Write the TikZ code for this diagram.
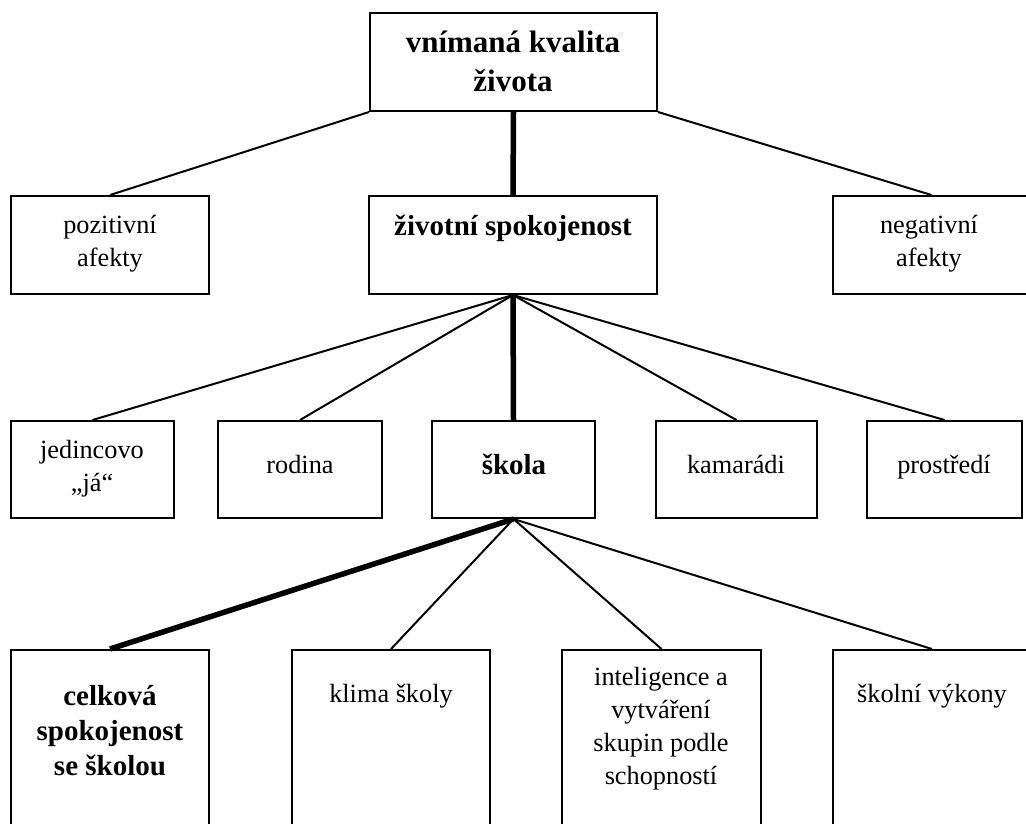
\documentclass[tikz,border=0pt]{standalone}
\usepackage{fontspec}
\setmainfont{Liberation Serif}
\usetikzlibrary{fit}
\tikzset{
  box/.style={draw, line width=2pt, inner sep=0pt},
  conn/.style={line width=2pt},
  strong/.style={line width=5.5pt},
  rm/.style={font=\fontsize{26.3}{33}\selectfont},
  bfm/.style={font=\fontsize{29}{35}\selectfont\bfseries},
  bft/.style={font=\fontsize{31}{39}\selectfont\bfseries},
  txt/.style={inner sep=0pt, align=center}
}
\begin{document}
\begin{tikzpicture}[x=1pt,y=-1pt]
\useasboundingbox (0,0) rectangle (1026,823);
\clip (0,0) rectangle (1026,823);
\fill[white] (0,0) rectangle (1026,823);
% boxes
\node[box, fit={(370,13)(657,111)}] (top) {};
\node[box, fit={(11,196)(209,294)}] (poz) {};
\node[box, fit={(369,196)(657,294)}] (ziv) {};
\node[box, fit={(833,196)(1030,294)}] (neg) {};
\node[box, fit={(11,421)(174,518)}] (ja) {};
\node[box, fit={(218,421)(382,518)}] (rod) {};
\node[box, fit={(432,421)(595,518)}] (sko) {};
\node[box, fit={(656,421)(817,518)}] (kam) {};
\node[box, fit={(867,421)(1022,518)}] (pro) {};
\node[box, fit={(11,650)(209,830)}] (cel) {};
\node[box, fit={(292,650)(490,830)}] (kli) {};
\node[box, fit={(562,650)(761,830)}] (int) {};
\node[box, fit={(833,650)(1031,830)}] (vyk) {};
% texts
\node[txt, bft, anchor=north] (topT) at (513,31) {vnímaná kvalita\\života};
\node[txt, rm, anchor=north] (pozT) at (110,215) {pozitivní\\afekty};
\node[txt, bfm, anchor=base] (zivT) at (513,235) {životní spokojenost};
\node[txt, rm, anchor=north] (negT) at (929,215) {negativní\\afekty};
\node[txt, rm, anchor=north] (jaT) at (92,440) {jedincovo\\„já“};
\node[txt, rm, anchor=base] (rodT) at (300,473) {rodina};
\node[txt, bfm, anchor=base] (skoT) at (514,474) {škola};
\node[txt, rm, anchor=base] (kamT) at (736,473) {kamarádi};
\node[txt, rm, anchor=base] (proT) at (944,473) {prostředí};
\node[txt, bfm, anchor=north] (celT) at (110,685) {celková\\spokojenost\\se školou};
\node[txt, rm, anchor=base] (kliT) at (391,702) {klima školy};
\node[txt, rm, anchor=north] (intT) at (661,667) {inteligence a\\vytváření\\skupin podle\\schopností};
\node[txt, rm, anchor=base] (vykT) at (932,702) {školní výkony};
% connectors
\draw[conn] (top.south west) -- (poz.north);
\draw[conn] (top.south east) -- (neg.north);
\draw[strong] (top.south) -- (ziv.north);
\draw[conn] (ziv.south) -- (ja.north);
\draw[conn] (ziv.south) -- (rod.north);
\draw[conn] (ziv.south) -- (kam.north);
\draw[conn] (ziv.south) -- (pro.north);
\draw[strong] (ziv.south) -- (sko.north);
\draw[strong] (sko.south) -- (cel.north);
\draw[conn] (sko.south) -- (kli.north);
\draw[conn] (sko.south) -- (int.north);
\draw[conn] (sko.south) -- (vyk.north);
\end{tikzpicture}
\end{document}
